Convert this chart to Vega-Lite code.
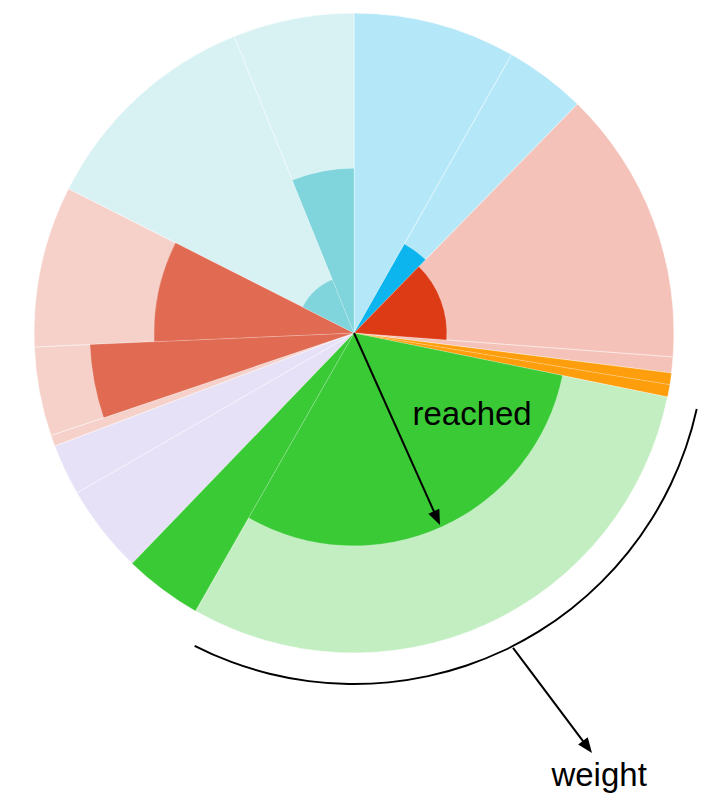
{
  "$schema": "https://vega.github.io/schema/vega-lite/v6.json",
  "width": 708,
  "height": 666,
  "autosize": {"type": "none"},
  "padding": {"left": 0, "right": 0, "top": 0, "bottom": 140},
  "background": "white",
  "config": {"view": {"stroke": null}},
  "datasets": {
    "segments": [
      {"idx": 1, "group": "blue", "weight": 29.5, "reached": 0},
      {"idx": 2, "group": "blue", "weight": 14.8, "reached": 0.32},
      {"idx": 3, "group": "red", "weight": 50, "reached": 0.29},
      {"idx": 4, "group": "red", "weight": 2.9, "reached": 0},
      {"idx": 5, "group": "orange", "weight": 2.1, "reached": 1},
      {"idx": 6, "group": "orange", "weight": 2.2, "reached": 1},
      {"idx": 7, "group": "green", "weight": 108.2, "reached": 0.665},
      {"idx": 8, "group": "green", "weight": 14.2, "reached": 1},
      {"idx": 9, "group": "purple", "weight": 16.1, "reached": 0},
      {"idx": 10, "group": "purple", "weight": 9.3, "reached": 0},
      {"idx": 11, "group": "salmon", "weight": 2.0, "reached": 0},
      {"idx": 12, "group": "salmon", "weight": 16.2, "reached": 0.826},
      {"idx": 13, "group": "salmon", "weight": 29.3, "reached": 0.625},
      {"idx": 14, "group": "teal", "weight": 41.2, "reached": 0.18},
      {"idx": 15, "group": "teal", "weight": 22, "reached": 0.515}
    ],
    "weightArc": [
      {"a0": 102.5, "a1": 207, "r0": 1.094, "r1": 1.1}
    ],
    "arrows": [
      {"arrow": "reached", "step": 0, "x": 0, "y": 0},
      {"arrow": "reached", "step": 1, "x": 0.258, "y": -0.576},
      {"arrow": "weight", "step": 0, "x": 0.497, "y": -0.984},
      {"arrow": "weight", "step": 1, "x": 0.728, "y": -1.2916}
    ],
    "heads": [
      {"arrow": "reached", "x": 0.258, "y": -0.576, "dir": 155.9},
      {"arrow": "weight", "x": 0.728, "y": -1.2916, "dir": 143}
    ],
    "labels": [
      {"text": "reached", "x": 0.369, "y": -0.2875},
      {"text": "weight", "x": 0.766, "y": -1.4156}
    ]
  },
  "layer": [
    {
      "data": {"name": "segments"},
      "transform": [
        {"stack": "weight", "groupby": [], "sort": [{"field": "idx", "order": "ascending"}], "as": ["w0", "w1"]}
      ],
      "mark": {"type": "arc", "opacity": 0.3, "stroke": "white", "strokeWidth": 0.6},
      "encoding": {
        "theta": {"field": "w0", "type": "quantitative", "stack": null, "scale": {"domain": [0, 360]}},
        "theta2": {"field": "w1"},
        "radius": {"datum": 1, "type": "quantitative", "scale": {"type": "linear", "domain": [0, 1.040625], "zero": true, "nice": false}},
        "color": {"field": "group", "type": "nominal", "legend": null,
          "scale": {"domain": ["blue", "red", "orange", "green", "purple", "salmon", "teal"],
                    "range": ["#0CB5EE", "#DD3A16", "#FF9E0C", "#3ACA36", "#AF9EE8", "#E06A52", "#80D5DC"]}}
      }
    },
    {
      "data": {"name": "segments"},
      "transform": [
        {"stack": "weight", "groupby": [], "sort": [{"field": "idx", "order": "ascending"}], "as": ["w0", "w1"]}
      ],
      "mark": {"type": "arc", "stroke": "white", "strokeWidth": 0.4, "strokeOpacity": 0.5},
      "encoding": {
        "theta": {"field": "w0", "type": "quantitative", "stack": null},
        "theta2": {"field": "w1"},
        "radius": {"field": "reached", "type": "quantitative"},
        "color": {"field": "group", "type": "nominal", "legend": null}
      }
    },
    {
      "data": {"name": "weightArc"},
      "mark": {"type": "arc", "color": "black"},
      "encoding": {
        "theta": {"field": "a0", "type": "quantitative", "stack": null},
        "theta2": {"field": "a1"},
        "radius": {"field": "r0", "type": "quantitative"},
        "radius2": {"field": "r1"}
      }
    },
    {
      "data": {"name": "arrows"},
      "mark": {"type": "line", "color": "black", "strokeWidth": 2},
      "encoding": {
        "x": {"field": "x", "type": "quantitative", "axis": null, "scale": {"domain": [-1.10625, 1.10625], "nice": false, "zero": false}},
        "y": {"field": "y", "type": "quantitative", "axis": null, "scale": {"domain": [-1.040625, 1.040625], "nice": false, "zero": false}},
        "detail": {"field": "arrow"},
        "order": {"field": "step", "type": "quantitative"}
      }
    },
    {
      "data": {"name": "heads"},
      "mark": {"type": "point", "shape": "M0,-1L0.72,0.8L-0.72,0.8Z", "filled": true, "color": "black", "opacity": 1, "size": 280},
      "encoding": {
        "x": {"field": "x", "type": "quantitative"},
        "y": {"field": "y", "type": "quantitative"},
        "angle": {"field": "dir", "type": "quantitative", "scale": {"domain": [0, 360], "range": [0, 360]}}
      }
    },
    {
      "data": {"name": "labels"},
      "mark": {"type": "text", "font": "Liberation Sans", "fontSize": 33, "align": "center", "baseline": "alphabetic", "color": "black"},
      "encoding": {
        "x": {"field": "x", "type": "quantitative"},
        "y": {"field": "y", "type": "quantitative"},
        "text": {"field": "text"}
      }
    }
  ]
}
